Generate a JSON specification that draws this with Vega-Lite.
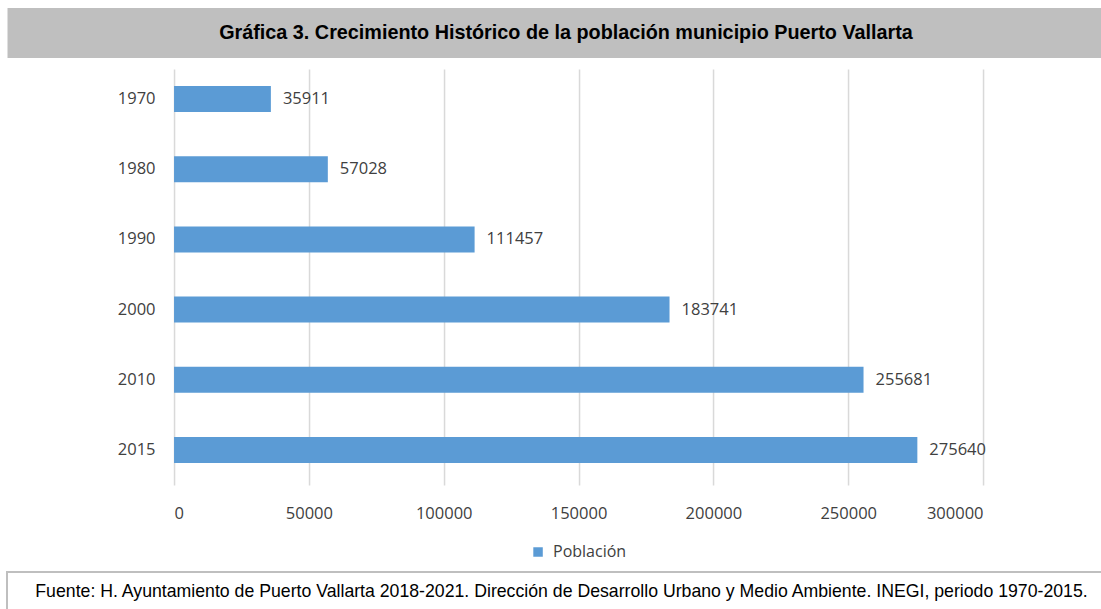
{
  "$schema": "https://vega.github.io/schema/vega-lite/v6.json",
  "padding": {"left": 6, "top": 8, "right": 0, "bottom": 0},
  "background": "white",
  "spacing": 11,
  "center": true,
  "resolve": {"scale": {"color": "independent"}, "legend": {"color": "independent"}},
  "config": {
    "view": {"stroke": null},
    "legend": {"layout": {"anchor": "middle"}}
  },
  "vconcat": [
    {
      "width": 1145,
      "height": 50,
      "view": {"fill": "#bfbfbf", "stroke": null},
      "data": {"values": [{"t": "Gráfica 3. Crecimiento Histórico de la población municipio Puerto Vallarta"}]},
      "mark": {"type": "text", "font": "Liberation Sans", "fontWeight": "bold", "fontSize": 19.8, "color": "#000000", "dx": -14, "baseline": "middle", "align": "center"},
      "encoding": {"text": {"field": "t"}}
    },
    {
      "width": 809,
      "height": 416,
      "data": {"values": [
        {"anio": "1970", "poblacion": 35911, "serie": "Población"},
        {"anio": "1980", "poblacion": 57028, "serie": "Población"},
        {"anio": "1990", "poblacion": 111457, "serie": "Población"},
        {"anio": "2000", "poblacion": 183741, "serie": "Población"},
        {"anio": "2010", "poblacion": 255681, "serie": "Población"},
        {"anio": "2015", "poblacion": 275640, "serie": "Población"}
      ]},
      "encoding": {
        "y": {
          "field": "anio", "type": "nominal", "sort": null,
          "scale": {"paddingInner": 0.63, "paddingOuter": 0.278, "align": 0.436},
          "axis": {"title": null, "domain": false, "ticks": false, "labelPadding": 19,
                   "labelFont": "Open Sans", "labelFontSize": 16.5, "labelColor": "#404040"}
        },
        "x": {
          "field": "poblacion", "type": "quantitative",
          "scale": {"domain": [0, 300000], "nice": false},
          "axis": {"title": null, "values": [0, 50000, 100000, 150000, 200000, 250000, 300000], "format": "d",
                   "domain": false, "ticks": false, "grid": true, "gridColor": "#d9d9d9", "gridWidth": 1.5,
                   "labelPadding": 20, "labelFont": "Open Sans", "labelFontSize": 16.5, "labelColor": "#404040"}
        }
      },
      "layer": [
        {
          "mark": {"type": "bar"},
          "encoding": {
            "color": {
              "field": "serie", "type": "nominal",
              "scale": {"range": ["#5b9bd5"]},
              "legend": {"orient": "bottom", "title": null, "direction": "horizontal", "symbolType": "square",
                         "symbolSize": 90, "symbolStrokeWidth": 0, "labelFont": "Open Sans", "labelFontSize": 16,
                         "labelColor": "#404040", "labelOffset": 7, "offset": 22, "padding": 0}
            }
          }
        },
        {
          "mark": {"type": "text", "align": "left", "baseline": "middle", "dx": 12, "font": "Open Sans", "fontSize": 16.5, "color": "#404040"},
          "encoding": {"text": {"field": "poblacion", "type": "quantitative", "format": "d"}}
        }
      ]
    },
    {
      "width": 1145,
      "height": 42,
      "view": {"fill": "white", "stroke": "#bfbfbf", "strokeWidth": 2},
      "data": {"values": [{"t": "Fuente: H. Ayuntamiento de Puerto Vallarta 2018-2021. Dirección de Desarrollo Urbano y Medio Ambiente.  INEGI, periodo 1970-2015."}]},
      "mark": {"type": "text", "font": "Liberation Sans", "fontSize": 17.7, "color": "#000000", "dx": -18, "dy": -1, "baseline": "middle", "align": "center"},
      "encoding": {"text": {"field": "t"}}
    }
  ]
}
